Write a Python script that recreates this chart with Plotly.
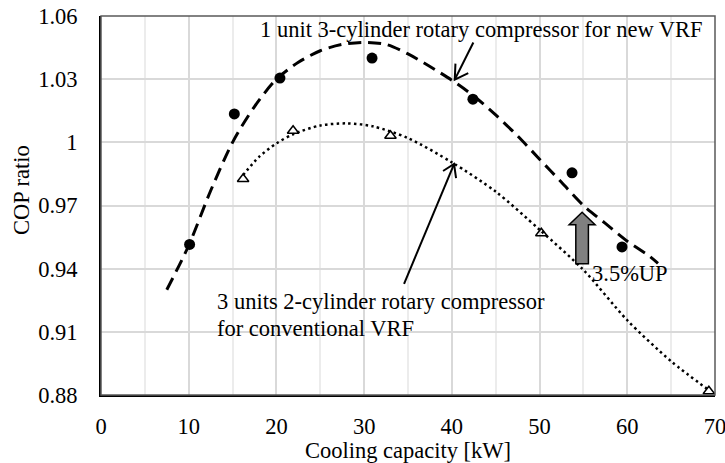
import plotly.graph_objects as go

# Measured data: 1 unit 3-cylinder (new VRF)
new_x = [10.1, 15.2, 20.4, 30.9, 42.4, 53.7, 59.4]
new_y = [0.9515, 1.0135, 1.0305, 1.0400, 1.0205, 0.9855, 0.9503]
# Measured data: 3 units 2-cylinder (conventional VRF)
conv_x = [16.2, 21.9, 33.0, 50.2, 69.3]
conv_y = [0.9826, 1.0055, 1.0031, 0.9568, 0.8818]

# Trend curves
new_fit_x = [7.5, 10, 12.5, 15, 17.5, 20, 22.5, 25, 27.5, 30, 32.5, 35, 37.5,
             40, 42.5, 45, 47.5, 50, 52.5, 55, 57.5, 60, 62.5, 63.5]
new_fit_y = [0.930, 0.951, 0.977, 1.000, 1.017, 1.030, 1.038, 1.0435, 1.0465,
             1.0475, 1.0465, 1.042, 1.036, 1.0295, 1.022, 1.013, 1.003, 0.992,
             0.981, 0.970, 0.9615, 0.953, 0.946, 0.9425]
conv_fit_x = [16.2, 18, 20, 22, 25, 28, 31, 35, 40, 45, 50, 55, 60, 65, 69.4]
conv_fit_y = [0.9845, 0.993, 0.9995, 1.004, 1.008, 1.009, 1.0076, 1.002,
              0.9905, 0.9766, 0.9585, 0.9394, 0.9155, 0.896, 0.882]

x_ticks = [0, 10, 20, 30, 40, 50, 60, 70]
y_ticks = [0.88, 0.91, 0.94, 0.97, 1.00, 1.03, 1.06]
y_ticktext = ["0.88", "0.91", "0.94", "0.97", "1", "1.03", "1.06"]

FONT = "Liberation Serif"
FS = 22.5

fig = go.Figure()
fig.add_trace(go.Scatter(x=new_fit_x, y=new_fit_y, mode="lines",
                         line=dict(color="black", width=3, dash="13px,7px",
                                   shape="spline", smoothing=0.8),
                         hoverinfo="skip", showlegend=False))
fig.add_trace(go.Scatter(x=conv_fit_x, y=conv_fit_y, mode="lines",
                         line=dict(color="black", width=2.5, dash="2.5px,3.3px",
                                   shape="spline", smoothing=0.8),
                         hoverinfo="skip", showlegend=False))
fig.add_trace(go.Scatter(x=new_x, y=new_y, mode="markers",
                         marker=dict(symbol="circle", size=11, color="black"),
                         showlegend=False))
fig.add_trace(go.Scatter(x=conv_x, y=conv_y, mode="markers",
                         marker=dict(symbol="triangle-up-open", size=10,
                                     color="black", line=dict(width=1.5, color="black")),
                         showlegend=False))

shapes = []
# frame (top/right)
shapes.append(dict(type="rect", xref="paper", yref="paper", x0=0, y0=0, x1=1, y1=1,
                   line=dict(color="#595959", width=1.5), layer="above"))
# arrow 1: text -> new VRF curve
shapes.append(dict(type="line", xref="x", yref="y", x0=42.45, y0=1.0474,
                   x1=40.33, y1=1.0298, line=dict(color="black", width=2)))
shapes.append(dict(type="path", xref="x", yref="y", xsizemode="pixel", ysizemode="pixel",
                   xanchor=40.33, yanchor=1.0298,
                   path="M0.7,16 L0,0 L13.5,6.5", line=dict(color="black", width=2)))
# arrow 2: text -> conventional curve
shapes.append(dict(type="line", xref="x", yref="y", x0=34.55, y0=0.9328,
                   x1=40.25, y1=0.9897, line=dict(color="black", width=2)))
shapes.append(dict(type="path", xref="x", yref="y", xsizemode="pixel", ysizemode="pixel",
                   xanchor=40.25, yanchor=0.9897,
                   path="M-11,-7 L0,0 L2,-14", line=dict(color="black", width=2)))
# block arrow 3.5% UP
shapes.append(dict(type="path", xref="x", yref="y", xsizemode="pixel", ysizemode="pixel",
                   xanchor=54.85, yanchor=0.9668,
                   path="M0,0 L13,-12.5 L6.3,-12.5 L6.3,-51.5 L-6.3,-51.5 L-6.3,-12.5 L-13,-12.5 Z",
                   fillcolor="#808080", line=dict(color="black", width=1.5)))

annotations = [
    dict(x=17.9, y=1.0538, xref="x", yref="y", xanchor="left", yanchor="middle",
         text="1 unit 3-cylinder rotary compressor for new VRF", showarrow=False,
         font=dict(family=FONT, size=FS, color="black")),
    dict(x=13.0, y=0.9245, xref="x", yref="y", xanchor="left", yanchor="middle",
         text="3 units 2-cylinder rotary compressor", showarrow=False,
         font=dict(family=FONT, size=FS, color="black")),
    dict(x=13.0, y=0.9118, xref="x", yref="y", xanchor="left", yanchor="middle",
         text="for conventional VRF", showarrow=False,
         font=dict(family=FONT, size=FS, color="black")),
    dict(x=55.75, y=0.9378, xref="x", yref="y", xanchor="left", yanchor="middle",
         text="3.5%UP", showarrow=False,
         font=dict(family=FONT, size=FS, color="black")),
    # y-axis title
    dict(x=-0.1287, y=0.541, xref="paper", yref="paper", xanchor="center",
         yanchor="middle", text="COP ratio", textangle=-90, showarrow=False,
         font=dict(family=FONT, size=FS, color="black")),
]

fig.update_layout(
    width=725, height=463,
    margin=dict(l=101, r=10, t=16, b=68, autoexpand=False),
    paper_bgcolor="white", plot_bgcolor="white",
    font=dict(family=FONT, size=FS, color="black"),
    shapes=shapes, annotations=annotations,
    xaxis=dict(range=[0, 70], tickvals=x_ticks, showgrid=True, gridcolor="#d9d9d9",
               gridwidth=1.5, showline=True, linecolor="black", linewidth=2,
               zeroline=False, ticks="", ticklabelstandoff=10,
               ticklabeloverflow="allow", automargin=False,
               minor=dict(dtick=5, showgrid=True, gridcolor="#ececec", gridwidth=1.5),
               title=dict(text="Cooling capacity [kW]", standoff=0,
                          font=dict(family=FONT, size=FS))),
    yaxis=dict(range=[0.88, 1.06], tickvals=y_ticks, ticktext=y_ticktext,
               showgrid=True, gridcolor="#d9d9d9", gridwidth=1.5,
               showline=True, linecolor="black", linewidth=2, zeroline=False,
               ticks="", ticklabelstandoff=17, ticklabeloverflow="allow",
               automargin=False),
)

fig.write_html("out.html")
